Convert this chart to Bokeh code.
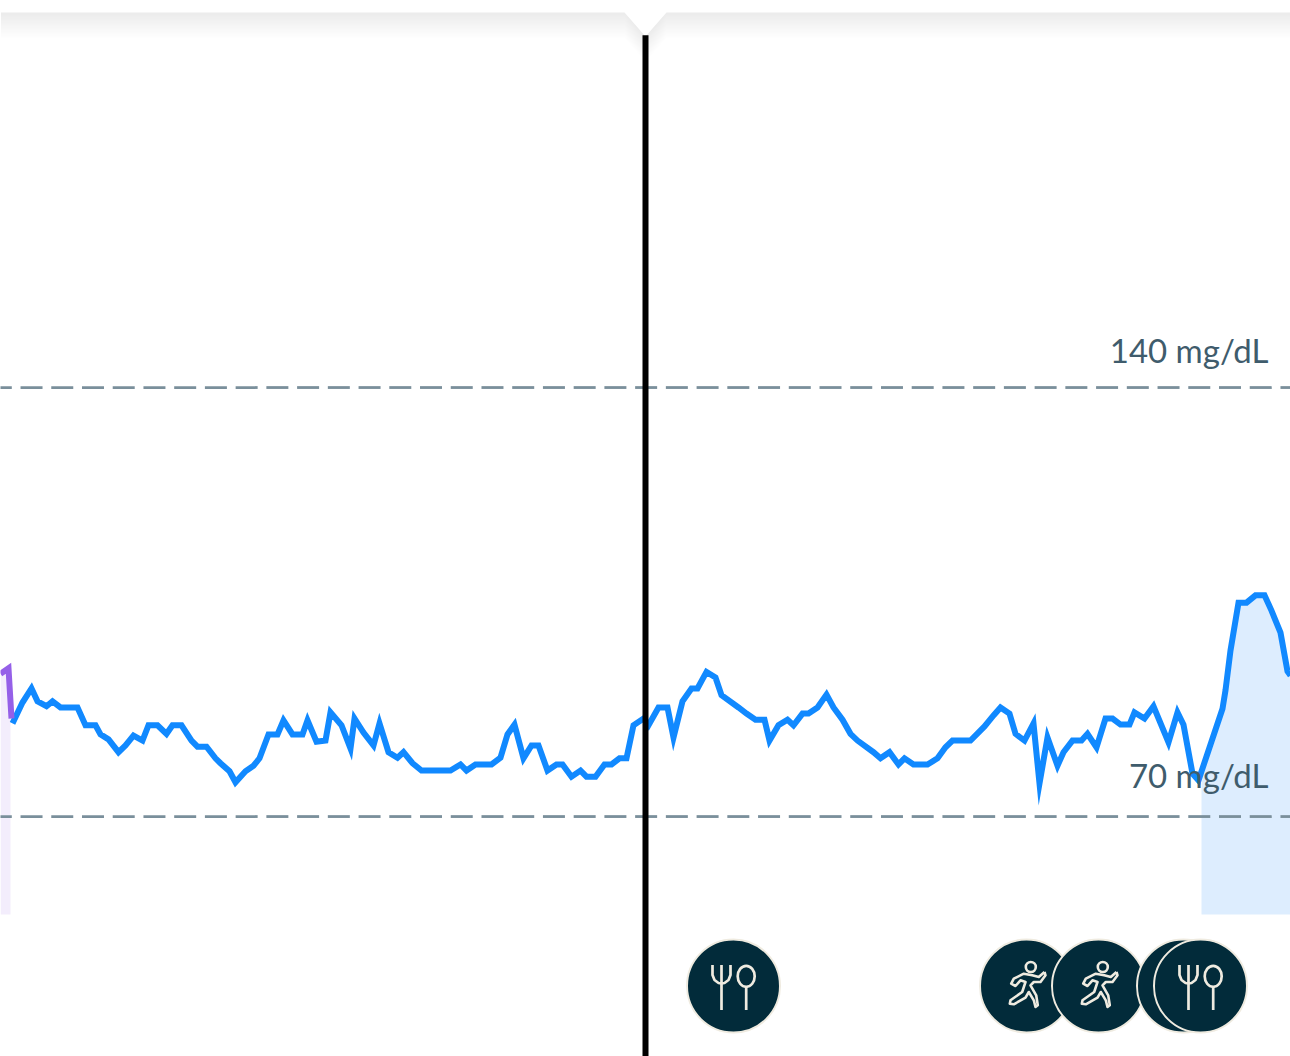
from bokeh.plotting import figure
from bokeh.models import Range1d
from bokeh.core.properties import value
from bokeh.embed import file_html
from bokeh.resources import INLINE

# --- data ----------------------------------------------------------------
earlier_t = [0, 8, 11]
earlier_mgdl = [93.3, 94.2, 86.0]

t = [12, 22, 31, 37, 46, 52, 60, 77, 85, 95, 100, 108, 118, 125, 133, 142, 148, 157, 166, 172,
     181, 191, 197, 206, 215, 220, 229, 235, 245, 253, 259, 268, 277, 283, 292, 302, 307, 316, 325, 330,
     341, 350, 354, 363, 373, 379, 388, 397, 403, 412, 421, 450, 460, 466, 475, 491, 500, 507, 514, 523,
     531, 538, 547, 556, 562, 571, 580, 586, 595, 604, 611, 619, 626, 633, 643, 648, 658, 667, 673, 682,
     691, 697, 706, 715, 721, 738, 746, 755, 764, 769, 778, 787, 793, 802, 808, 817, 826, 833, 842, 850,
     857, 873, 880, 889, 898, 904, 913, 927, 937, 945, 952, 970, 984, 993, 1000, 1009, 1015, 1024, 1033, 1039,
     1047, 1057, 1063, 1072, 1081, 1087, 1096, 1105, 1112, 1120, 1129, 1134, 1144, 1153, 1168, 1177, 1183, 1192, 1198, 1207,
     1222, 1225, 1230, 1238, 1246, 1255, 1264, 1271, 1280, 1287, 1290]
mgdl = [85.2, 88.6, 90.9, 88.8, 88.0, 88.8, 87.8, 87.8, 84.9, 84.9, 83.4, 82.6, 80.5, 81.6, 83.2, 82.4, 84.9, 84.9, 83.5, 84.9,
        84.9, 82.4, 81.4, 81.4, 79.5, 78.7, 77.4, 75.6, 77.4, 78.3, 79.5, 83.4, 83.4, 85.7, 83.4, 83.4, 85.7, 82.2, 82.4, 87.0,
        84.9, 81.1, 86.0, 83.7, 81.6, 85.2, 80.5, 79.6, 80.5, 78.7, 77.5, 77.5, 78.5, 77.5, 78.5, 78.5, 79.6, 83.4, 85.0, 79.5,
        81.6, 81.6, 77.5, 78.5, 78.5, 76.5, 77.5, 76.5, 76.5, 78.5, 78.5, 79.5, 79.5, 84.9, 86.0, 84.9, 87.8, 87.8, 82.9, 88.8,
        90.9, 90.9, 93.6, 92.7, 89.8, 87.8, 86.8, 85.8, 85.8, 82.4, 84.9, 85.8, 84.9, 86.8, 86.8, 87.8, 89.9, 87.8, 85.8, 83.5,
        82.4, 80.5, 79.5, 80.5, 78.5, 79.5, 78.5, 78.5, 79.5, 81.3, 82.4, 82.4, 84.7, 86.5, 87.8, 86.8, 83.5, 82.4, 85.2, 75.4,
        82.9, 78.3, 80.5, 82.4, 82.4, 83.5, 81.3, 86.0, 86.0, 85.0, 85.0, 87.0, 86.0, 88.0, 82.1, 87.0, 85.0, 77.0, 75.9, 80.3,
        87.6, 90.6, 97.1, 104.9, 104.9, 106.1, 106.1, 103.6, 100.0, 93.7, 93.0]

earlier_band_t = [0, 8, 10]
earlier_band_mgdl = [93.3, 94.2, 88.0]
band_t = [1201, 1207, 1222, 1225, 1230, 1238, 1246, 1255, 1264, 1271, 1280, 1287, 1290]
band_mgdl = [77.8, 80.3, 87.6, 90.6, 97.1, 104.9, 104.9, 106.1, 106.1, 103.6, 100.0, 93.7, 93.0]
band_floor = 54.0

targets = [140, 70]
target_labels = ["140 mg/dL", "70 mg/dL"]
label_offset_mgdl = [6.2, 6.7]

now_t = 645
meal_t = [733, 1200]
run_t = [1026, 1098]
hidden_t = [1183]

# --- figure --------------------------------------------------------------
W, H = 1290, 1056
INK = "#022b3a"
CREAM = "#efebe0"
p = figure(width=W, height=H, output_backend="svg", toolbar_location=None,
           x_range=Range1d(0, W), y_range=Range1d(30.85, 203.15),
           min_border=0, outline_line_color=None, background_fill_color="white",
           border_fill_color="white", margin=(0, 0, 0, 0))
p.axis.visible = False
p.grid.visible = False
p.extra_y_ranges = {"px": Range1d(H, 0)}

# panel shadow with the notch that points at the now line
panel_x = [-2, -2, 624, 645, 666, 1292, 1292]
panel_y = [-2, 12, 12, 36, 12, 12, -2]
for k in range(1, 21):
    p.patch(panel_x, [v + 1.3 * k if i not in (0, 6) else v for i, v in enumerate(panel_y)],
            fill_color="#000000", fill_alpha=0.002, line_color=None, y_range_name="px")
p.patch(panel_x, panel_y, fill_color="white", line_color=None, y_range_name="px")

# areas
p.varea(earlier_band_t, y1=[band_floor] * len(earlier_band_t), y2=earlier_band_mgdl, fill_color="#f3edfc")
p.varea(band_t, y1=[band_floor] * len(band_t), y2=band_mgdl, fill_color="#ddedfe")

# target lines, dashed by hand because the dash period is not a whole pixel
DASH, PERIOD, FIRST = 22, 30.73, -10.7
dash_starts = [FIRST + i * PERIOD for i in range(44)]
for v in targets:
    p.segment(dash_starts, [v] * len(dash_starts), [s + DASH for s in dash_starts], [v] * len(dash_starts),
              line_color="#7a8f9b", line_width=2.8, line_cap="butt")

# traces
p.line(t, mgdl, line_color="#1189ff", line_width=6, line_join="miter")
p.line(earlier_t, earlier_mgdl, line_color="#9560e8", line_width=6, line_join="miter")

# labels
p.text([1268, 1268], [v + o for v, o in zip(targets, label_offset_mgdl)], text=target_labels,
       text_font=value("Lato"), text_font_size="33px", text_color="#3f5c6c",
       text_align="right", text_baseline="alphabetic")

# now line
p.line([now_t, now_t], [0, 197.5], line_color="black", line_width=6, line_cap="butt")

# event icons
CY = 985.5
R = 46.5


def disc(x):
    p.circle([x], [CY], radius=R, fill_color=INK, line_color=CREAM, line_width=2, y_range_name="px")


def meal(x):
    disc(x)
    fork_x = [-21, -21, -19, -15, -12, -9, -5, -3, -3]
    fork_y = [-21, -11, -6, -3, -2.5, -3, -6, -11, -21]
    p.line([x + a for a in fork_x], [CY + b for b in fork_y], line_color=CREAM, line_width=2.7, y_range_name="px")
    p.line([x - 12, x - 12], [CY - 21, CY + 24], line_color=CREAM, line_width=2.7, y_range_name="px")
    p.ellipse([x + 12.7], [CY - 9.7], width=17, height=21, fill_color=None, line_color=CREAM,
              line_width=2.7, y_range_name="px")
    p.line([x + 12.7, x + 12.7], [CY + 1, CY + 24], line_color=CREAM, line_width=2.7, y_range_name="px")


def runner(x):
    disc(x)
    p.circle([x + 4.3], [CY - 19], radius=5, fill_color=None, line_color=CREAM, line_width=2.6, y_range_name="px")
    rx = [18, 12.3, 5.7, -2.7, -12.7, -15.3, -11, -6, -1, -4.3, -16, -16.7, -12.7, -1, 2.3, 7.3, 9, 11.3, 9.7, 4,
          7.3, 14, 19, 18]
    ry = [-14, -9, -10.7, -12.3, -7.3, -2.3, 0, -5.7, -4, 6, 14.3, 17.7, 18.3, 11.7, 6, 14.3, 21, 19.3, 9.3, -0.7,
          -4, -4, -10.7, -14]
    p.line([x + a for a in rx], [CY + b for b in ry], line_color=CREAM, line_width=2.6, line_join="round",
           y_range_name="px")


runner(run_t[0])
runner(run_t[1])
disc(hidden_t[0])
meal(meal_t[0])
meal(meal_t[1])

open("out.html", "w").write(file_html(p, INLINE))
